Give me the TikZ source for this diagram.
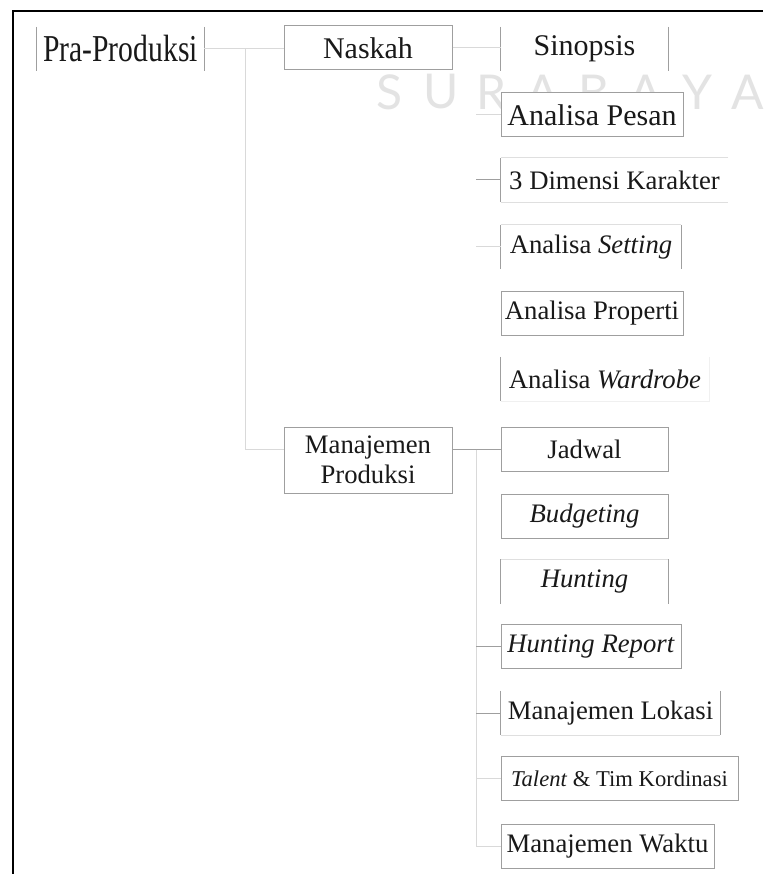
\documentclass[tikz,border=0pt]{standalone}
\usepackage{graphicx}
\usepackage{fontspec}
\setmainfont{Liberation Serif}
\newfontfamily\wmfont{Lato}
\usepackage{tikz}

\tikzset{
lbl/.style={fill=white, inner sep=0pt, minimum height=44pt, text=black!90, font=\fontsize{26.7}{30}\selectfont},
big/.style={font=\fontsize{30}{34}\selectfont},
box/.style={draw=gray!75, line width=1pt},
side/.style={gray!75, line width=1pt},
faint/.style={gray!25, line width=1pt},
conn/.style={gray!30, line width=1pt},
darkconn/.style={gray!75, line width=1pt},
wm/.style={text=gray!22, font=\wmfont\fontsize{48}{50}\selectfont, inner sep=0pt}
}

\begin{document}
\begin{tikzpicture}[x=1pt,y=-1pt]
\useasboundingbox (0,0) rectangle (763,874);
\fill[white] (0,0) rectangle (763,874);

\foreach \c/\x [count=\i] in {S/390,U/441,R/492,A/543,B/594,A/646,Y/697,A/748}
\node[wm] (wm\i) at (\x,92) {\c};

\draw[line width=2pt,black] (13,874) -- (13,11.5) -- (763,11.5);

\node[lbl,minimum width=167pt] (pra) at (120.5,49) {\scalebox{0.78}[1]{\fontsize{38}{40}\selectfont Pra-Produksi}};
\node[lbl,big,box,minimum width=168pt] (naskah) at (368,48) {Naskah};
\node[lbl,big,minimum width=167pt] (sinopsis) at (584.5,49) {Sinopsis};
\node[lbl,big,box,minimum width=182pt] (pesan) at (592,115) {Analisa Pesan};
\node[lbl,minimum width=227pt] (dimensi) at (614.5,180) {3 Dimensi Karakter};
\node[lbl,minimum width=180pt] (setting) at (591,247) {Analisa \textit{Setting}};
\node[lbl,box,minimum width=182pt] (properti) at (592,313) {Analisa Properti};
\node[lbl,minimum width=208pt] (wardrobe) at (605,379) {Analisa \textit{Wardrobe}};

\node[lbl,box,align=center,minimum width=168pt,minimum height=66pt] (manprod) at (368,460) {Manajemen\\Produksi};
\node[lbl,box,minimum width=167pt] (jadwal) at (584.5,449.5) {Jadwal};
\node[lbl,box,minimum width=167pt] (budget) at (584.5,516.5) {\textit{Budgeting}};
\node[lbl,minimum width=167pt] (hunting) at (584.5,581.5) {\textit{Hunting}};
\node[lbl,box,minimum width=180pt] (report) at (591,646) {\textit{Hunting Report}};
\node[lbl,minimum width=219pt] (lokasi) at (610.5,713) {Manajemen Lokasi};
\node[lbl,box,minimum width=237pt,font=\fontsize{22.6}{26}\selectfont] (talent) at (619.5,778.5) {\textit{Talent} \& Tim Kordinasi};
\node[lbl,box,minimum width=213pt] (waktu) at (607.5,846.5) {Manajemen Waktu};

\draw[side] (pra.north west) -- (pra.south west);
\draw[side] (pra.north east) -- (pra.south east);
\draw[side] (sinopsis.north west) -- (sinopsis.south west);
\draw[side] (sinopsis.north east) -- (sinopsis.south east);
\draw[faint] (dimensi.north east) -- (dimensi.north west);
\draw[faint] (dimensi.south west) -- (dimensi.south east);
\draw[side] (dimensi.north west) -- (dimensi.south west);
\draw[faint] (setting.north west) -- (setting.north east);
\draw[side] (setting.north west) -- (setting.south west);
\draw[side] (setting.north east) -- (setting.south east);
\draw[side] (wardrobe.north west) -- (wardrobe.south west);
\draw[gray!12,line width=1pt] (wardrobe.south west) -- (wardrobe.south east) -- (wardrobe.north east);
\draw[faint] (hunting.north west) -- (hunting.north east);
\draw[side] (hunting.north west) -- (hunting.south west);
\draw[side] (hunting.north east) -- (hunting.south east);
\draw[faint] (lokasi.south west) -- (lokasi.south east);
\draw[side] (lokasi.north west) -- (lokasi.south west);
\draw[side] (lokasi.north east) -- (lokasi.south east);

\coordinate (pbus) at (245,49);
\coordinate (nbus) at (476,115);
\coordinate (mbus) at (476,449.5);

\draw[conn] (pra.east) -- (pra.east -| naskah.west);
\draw[conn] (pbus) |- (manprod.west |- jadwal.west);
\draw[conn] (naskah.east) -- (naskah.east -| sinopsis.west);
\draw[conn] (nbus |- pesan.west) -- (pesan.west);
\draw[darkconn] (nbus |- dimensi.west) -- (dimensi.west);
\draw[conn] (nbus |- setting.west) -- (setting.west);

\draw[darkconn] (manprod.east |- jadwal.west) -- (jadwal.west);
\draw[conn] (mbus) |- (waktu.west);
\draw[darkconn] (mbus |- report.west) -- (report.west);
\draw[darkconn] (mbus |- lokasi.west) -- (lokasi.west);
\draw[conn] (mbus |- talent.west) -- (talent.west);
\end{tikzpicture}
\end{document}
